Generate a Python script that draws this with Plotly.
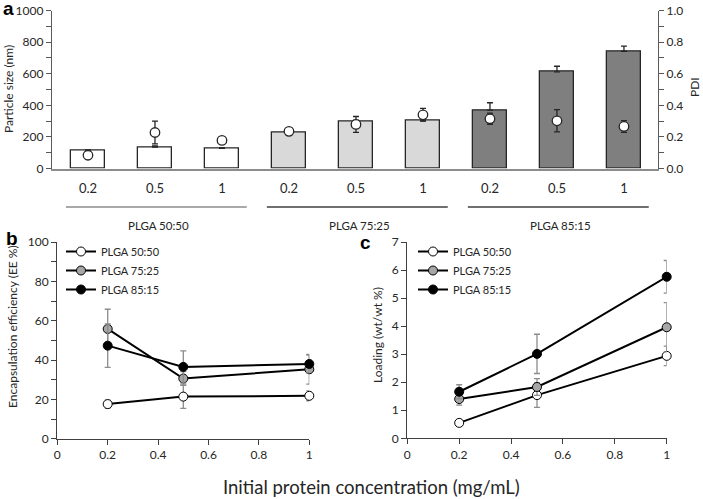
import plotly.graph_objects as go

W, H = 703, 499
def px(x): return x / W
def py(y): return 1 - y / H

# ---------------- data ----------------
bar_pos = [0, 1, 2, 3, 4, 5, 6, 7, 8]
conc_labels = ["0.2", "0.5", "1", "0.2", "0.5", "1", "0.2", "0.5", "1"]
groups = ["PLGA 50:50", "PLGA 75:25", "PLGA 85:15"]
group_centers = [1, 4, 7]
size_nm = [112, 135, 127, 230, 296, 302, 370, 611, 742]
size_err = [5, 8, 5, 5, 10, 10, 46, 36, 32]
pdi = [0.084, 0.228, 0.178, 0.235, 0.279, 0.340, 0.315, 0.302, 0.266]
pdi_err = [0.01, 0.072, 0.02, 0.01, 0.05, 0.04, 0.035, 0.07, 0.037]

conc = [0.2, 0.5, 1.0]
ee_5050 = [17.6, 21.4, 21.8]
ee_5050_err = [2.0, 6.0, 2.5]
ee_7525 = [55.8, 30.6, 35.3]
ee_7525_err = [10.0, 3.5, 7.6]
ee_8515 = [47.3, 36.5, 38.0]
ee_8515_err = [11.0, 8.2, 4.5]

load_5050 = [0.55, 1.54, 2.94]
load_5050_err = [0.05, 0.44, 0.35]
load_7525 = [1.40, 1.83, 3.96]
load_7525_err = [0.22, 0.30, 0.88]
load_8515 = [1.66, 3.01, 5.76]
load_8515_err = [0.25, 0.70, 0.58]

# ---------------- style ----------------
FONT = "Lato"
TXT = "#262626"
EDGE = "#262626"
bar_fill = ["#ffffff"] * 3 + ["#d9d9d9"] * 3 + ["#7f7f7f"] * 3
series_fill = ["#ffffff", "#a6a6a6", "#000000"]

fig = go.Figure()

# Panel a
fig.add_trace(go.Bar(
    x=bar_pos, y=size_nm, width=0.5,
    marker=dict(color=bar_fill, line=dict(color=EDGE, width=1.3)),
    error_y=dict(type="data", array=size_err, arrayminus=[0] * 9, symmetric=False,
                 color=EDGE, thickness=1.3, width=3),
    xaxis="x", yaxis="y", showlegend=False))
fig.add_trace(go.Scatter(
    x=bar_pos, y=pdi, mode="markers",
    marker=dict(color="white", size=9.5, line=dict(color=EDGE, width=1.3)),
    error_y=dict(type="data", array=pdi_err, color=EDGE, thickness=1.3, width=3),
    xaxis="x", yaxis="y2", showlegend=False, cliponaxis=False))

# Panels b, c
b_series = [(ee_5050, ee_5050_err), (ee_7525, ee_7525_err), (ee_8515, ee_8515_err)]
c_series = [(load_5050, load_5050_err), (load_7525, load_7525_err), (load_8515, load_8515_err)]
for (vals, errs), (lv, le), name, fill in zip(b_series, c_series, groups, series_fill):
    fig.add_trace(go.Scatter(
        x=conc, y=vals, mode="lines+markers", name=name,
        line=dict(color="#000000", width=2),
        marker=dict(color=fill, size=9, line=dict(color="#000000", width=1)),
        error_y=dict(type="data", array=errs, color="#8c8c8c", thickness=1.3, width=3),
        xaxis="x2", yaxis="y3", legend="legend", cliponaxis=False))
    fig.add_trace(go.Scatter(
        x=conc, y=lv, mode="lines+markers", name=name,
        line=dict(color="#000000", width=2),
        marker=dict(color=fill, size=9, line=dict(color="#000000", width=1)),
        error_y=dict(type="data", array=le, color="#8c8c8c", thickness=1.3, width=3),
        xaxis="x3", yaxis="y4", legend="legend2", cliponaxis=False))

tickfont = dict(family=FONT, size=12, color=TXT)
common = dict(showgrid=False, zeroline=False, showline=True, linewidth=1.3,
              automargin=False,
              tickfont=tickfont, ticks="outside", ticklen=5, tickwidth=1.2)

layout = dict(
    template="none",
    width=W, height=H, margin=dict(l=0, r=0, t=0, b=0, pad=0, autoexpand=False),
    paper_bgcolor="white", plot_bgcolor="white",
    font=dict(family=FONT, color=TXT),
    bargap=0,
    xaxis=dict(domain=[px(52), px(658)], range=[-0.537, 8.508], anchor="y",
               tickvals=bar_pos, ticktext=conc_labels, showgrid=False, zeroline=False,
               showline=True, linecolor="#8c8c8c", linewidth=1.5, automargin=False,
               ticks="outside", ticklen=7, tickcolor="rgba(0,0,0,0)",
               tickfont=dict(family=FONT, size=13, color=TXT)),
    yaxis=dict(domain=[py(168.5), py(10.5)], range=[0, 1000], dtick=200, anchor="x",
               linecolor="#595959", tickcolor="#595959",
               minor=dict(dtick=100, ticks="outside", ticklen=5, tickcolor="#595959"),
               **common),
    yaxis2=dict(overlaying="y", side="right", anchor="x", range=[0, 1], dtick=0.2,
                tickformat=".1f", linecolor="#595959", tickcolor="#595959",
                minor=dict(dtick=0.1, ticks="outside", ticklen=5, tickcolor="#595959"),
                **common),
    xaxis2=dict(domain=[px(57.3), px(309.3)], range=[0, 1], dtick=0.2, anchor="y3",
                tickformat="~g", linecolor="#404040", tickcolor="#404040", **common),
    yaxis3=dict(domain=[py(438.7), py(242)], range=[0, 100], dtick=20, anchor="x2",
                linecolor="#404040", tickcolor="#404040",
                minor=dict(dtick=10, ticks="outside", ticklen=5, tickcolor="#404040"),
                **common),
    xaxis3=dict(domain=[px(407.3), px(666.7)], range=[0, 1], dtick=0.2, anchor="y4",
                tickformat="~g", linecolor="#404040", tickcolor="#404040", **common),
    yaxis4=dict(domain=[py(438.3), py(242)], range=[0, 7], dtick=1, anchor="x3",
                linecolor="#404040", tickcolor="#404040", **common),
    legend=dict(x=px(61), y=py(237), xanchor="left", yanchor="top",
                bgcolor="rgba(0,0,0,0)", font=dict(family=FONT, size=11, color=TXT),
                itemwidth=30, tracegroupgap=0),
    legend2=dict(x=px(413), y=py(237), xanchor="left", yanchor="top",
                 bgcolor="rgba(0,0,0,0)", font=dict(family=FONT, size=11, color=TXT),
                 itemwidth=30, tracegroupgap=0),
)
fig.update_layout(**layout)

# group lines & labels under panel a
line_cols = ["#8c8c8c", "#404040", "#404040"]
for gc, gname, lc in zip(group_centers, groups, line_cols):
    fig.add_shape(type="line", xref="x", yref="paper",
                  x0=gc - 1.33, x1=gc + 1.37, y0=py(207), y1=py(207),
                  line=dict(color=lc, width=1.3))
    fig.add_annotation(x=gc + 0.05, y=py(225.5), xref="x", yref="paper",
                       xanchor="center", yanchor="middle",
                       text=gname, showarrow=False,
                       font=dict(family=FONT, size=11.5, color=TXT))

ann = [
    dict(text="<b>a</b>", x=px(1), y=py(8), xanchor="left", yanchor="middle",
         font=dict(family="Liberation Sans", size=19, color="#000")),
    dict(text="<b>b</b>", x=px(4), y=py(238), xanchor="left", yanchor="middle",
         font=dict(family="Liberation Sans", size=19, color="#000")),
    dict(text="<b>c</b>", x=px(358), y=py(243), xanchor="left", yanchor="middle",
         font=dict(family="Liberation Sans", size=19, color="#000")),
    dict(text="Particle size (nm)", x=px(8), y=py(89), textangle=-90,
         xanchor="center", yanchor="middle",
         font=dict(family=FONT, size=12, color=TXT)),
    dict(text="PDI", x=px(694), y=py(87), textangle=-90,
         xanchor="center", yanchor="middle",
         font=dict(family=FONT, size=12, color=TXT)),
    dict(text="Encapsulation efficiency (EE %)", x=px(12), y=py(327), textangle=-90,
         xanchor="center", yanchor="middle",
         font=dict(family=FONT, size=12, color=TXT)),
    dict(text="Loading (wt/wt %)", x=px(377), y=py(335), textangle=-90,
         xanchor="center", yanchor="middle",
         font=dict(family=FONT, size=12, color=TXT)),
    dict(text="Initial protein concentration (mg/mL)", x=px(371), y=py(487),
         xanchor="center", yanchor="middle",
         font=dict(family=FONT, size=18.5, color=TXT)),
]
for a in ann:
    fig.add_annotation(xref="paper", yref="paper", showarrow=False, **a)

fig.write_html("out.html", config={"displayModeBar": False},
               post_script="document.body.style.margin='0';document.body.style.padding='0';")
